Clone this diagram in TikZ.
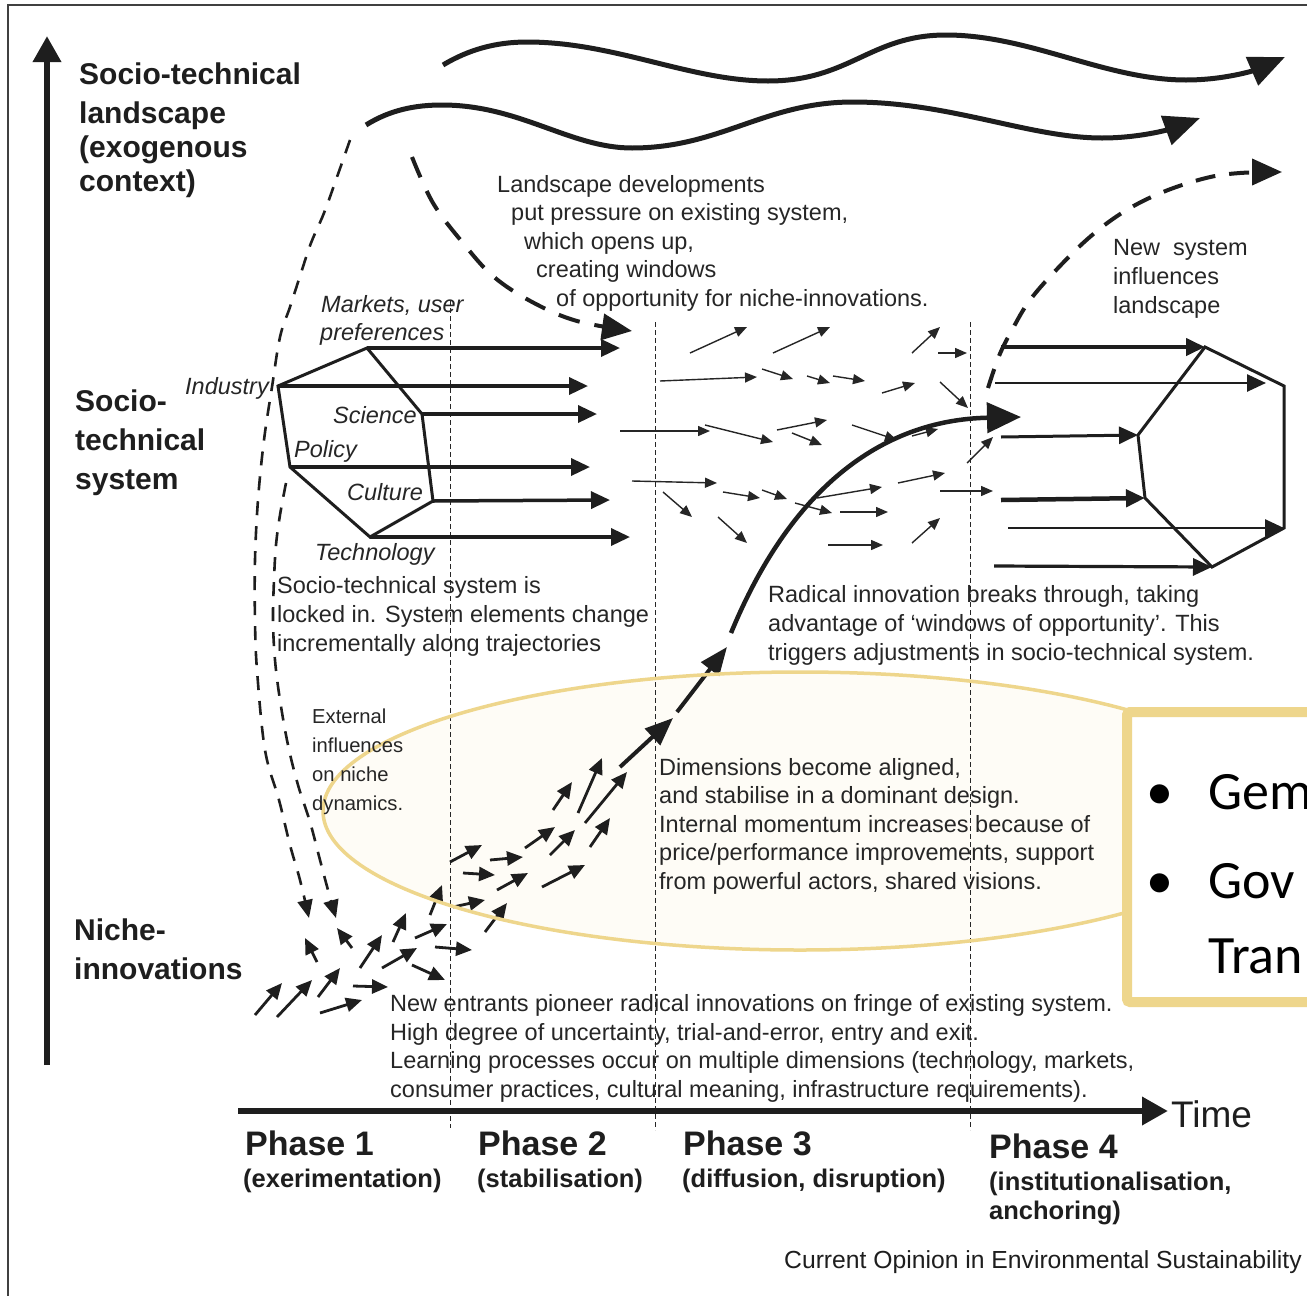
\documentclass[tikz,border=0pt]{standalone}
\usepackage{fontspec}
\setmainfont{Liberation Sans}
\newfontfamily\carl{Carlito}
\usetikzlibrary{arrows.meta}
\definecolor{ink}{RGB}{30,30,30}
\definecolor{txt}{RGB}{38,38,38}
\definecolor{gold}{RGB}{238,214,140}
\definecolor{cream}{RGB}{254,252,246}
\tikzset{
  lbl/.style={anchor=base west, inner sep=0pt, text=txt, font=\fontsize{23.5}{28}\selectfont},
  itl/.style={lbl, font=\fontsize{23.5}{28}\selectfont\itshape},
  sml/.style={lbl, font=\fontsize{20.2}{24}\selectfont},
  hdr/.style={anchor=base west, inner sep=0pt, text=ink, font=\fontsize{30}{35}\selectfont\bfseries},
  phs/.style={anchor=base west, inner sep=0pt, text=ink, font=\fontsize{34}{38}\selectfont\bfseries},
  phsub/.style={anchor=base west, inner sep=0pt, text=ink, font=\fontsize{25.5}{30}\selectfont\bfseries},
  boxtxt/.style={anchor=base west, inner sep=0pt, text=black, font=\carl\fontsize{54}{60}\selectfont},
  axis/.style={draw=ink, line width=6.5pt, -{Triangle[length=26pt,width=27pt]}},
  wave/.style={draw=ink, line width=5pt, -{Triangle[length=36pt,width=30pt]}},
  sysarr/.style={draw=ink, line width=3.5pt, -{Triangle[length=19pt,width=17pt]}},
  hexline/.style={draw=ink, line width=3pt, line join=miter},
  thinarr/.style={draw=txt, line width=1.4pt, -{Triangle[length=12pt,width=10pt]}},
  nicharr/.style={draw=ink, line width=2.8pt, -{Triangle[length=16pt,width=14pt]}},
  phaseline/.style={draw=txt, line width=1pt, dash pattern=on 5pt off 3pt},
  lddash/.style={draw=ink, line width=2.6pt, dash pattern=on 14pt off 11pt, -{Triangle[length=18pt,width=15pt]}},
  bigdash/.style={draw=ink, line width=4pt, dash pattern=on 22pt off 15pt, -{Triangle[length=30pt,width=26pt]}},
  chain/.style={draw=ink, line width=4pt, -{Triangle[length=28pt,width=22pt]}},
}
\begin{document}
\begin{tikzpicture}[x=1pt,y=-1pt]
\useasboundingbox (0,0) rectangle (1307,1296);
\clip (0,0) rectangle (1307,1296);
\fill[white] (0,0) rectangle (1307,1296);
% frame
\draw[black!75, line width=1.5pt] (1307,5) -- (8,5) -- (8,1296);

% ellipse fill (behind)
\fill[cream] (800,811) ellipse [x radius=477, y radius=139];

% phase separators
\draw[phaseline] (450,300) -- (450,1128);
\draw[phaseline] (655,322) -- (655,1130);
\draw[phaseline] (970,322) -- (970,1130);

% axes
\coordinate (vaS) at (47,1065); \coordinate (vaE) at (47,36);
\draw[axis] (vaS) -- (vaE);
\coordinate (taS) at (238,1111); \coordinate (taE) at (1168,1111);
\draw[axis] (taS) -- (taE);

% landscape waves
\draw[wave] (443,65) .. controls (468,50) and (495,42) .. (527,42)
  .. controls (615,42) and (690,81) .. (768,81)
  .. controls (850,81) and (870,35) .. (946,35)
  .. controls (1030,35) and (1105,80) .. (1186,80)
  .. controls (1225,80) and (1255,70) .. (1285,57);
\draw[wave] (366,125) .. controls (390,110) and (415,105) .. (442,105)
  .. controls (520,105) and (570,148) .. (632,148)
  .. controls (720,148) and (765,102) .. (853,102)
  .. controls (950,102) and (1030,138) .. (1102,138)
  .. controls (1140,138) and (1170,129) .. (1200,118);

% dashed influences (left)
\draw[lddash] plot[smooth, tension=0.6] coordinates {(350,140) (337,177) (324,213) (311,243) (301,273) (290,307) (280,337) (272,387) (264,440) (258,500) (255,560) (255,620) (257,670) (265,750) (279,800) (290,845) (300,880) (309,918)};
\draw[lddash] plot[smooth, tension=0.6] coordinates {(286,483) (280,515) (276,545) (274,580) (273,620) (275,660) (280,700) (288,745) (298,785) (310,822) (320,860) (328,890) (336,918)};

% landscape pressure dashed
\draw[bigdash] plot[smooth, tension=0.6] coordinates {(412,157) (433,203) (463,243) (494,277) (534,303) (577,321) (632,331)};
% new system influences landscape
\draw[bigdash, dash pattern=on 20pt off 14pt] plot[smooth, tension=0.6] coordinates {(988,388) (999,356) (1012,330) (1030,300) (1059,267) (1091,236) (1125,211) (1163,192) (1206,178) (1240,173) (1282,172)};

% left socio-technical system hexagon
\coordinate (hT) at (367,348);
\coordinate (hI) at (278,386);
\coordinate (hS) at (422,414);
\coordinate (hP) at (290,467);
\coordinate (hC) at (433,501);
\coordinate (hG) at (370,537);
\draw[hexline] (hT) -- (hS) -- (hC) -- (hG) -- (hP) -- (hI) -- cycle;
\coordinate (eT) at (620,348);
\coordinate (eI) at (588,386);
\coordinate (eS) at (597,414);
\coordinate (eP) at (590,467);
\coordinate (eC) at (610,500);
\coordinate (eG) at (630,537);
\draw[sysarr] (hT) -- (eT);
\draw[sysarr] (hI) -- (eI);
\draw[sysarr] (hS) -- (eS);
\draw[sysarr] (hP) -- (eP);
\draw[sysarr] (hC) -- (eC);
\draw[sysarr] (hG) -- (eG);

% right new system hexagon
\coordinate (rT) at (1205,347);
\coordinate (rRU) at (1284,386);
\coordinate (rRL) at (1284,528);
\coordinate (rB) at (1212,567);
\coordinate (rLL) at (1145,498);
\coordinate (rLU) at (1138,435);
\draw[hexline] (rT) -- (rRU) -- (rRL) -- (rB) -- (rLL) -- (rLU) -- cycle;
\coordinate (s1) at (1001,347);
\coordinate (s2) at (995,383);
\coordinate (s3) at (1001,437);
\coordinate (s4) at (1001,500);
\coordinate (s5) at (1008,528);
\coordinate (s6) at (994,566);
\coordinate (t2) at (1266,383);
\draw[sysarr, line width=4pt] (s1) -- (rT);
\draw[sysarr, line width=2.6pt] (s2) -- (t2);
\draw[sysarr, line width=3pt] (s3) -- (rLU);
\draw[sysarr, line width=4.5pt] (s4) -- (rLL);
\draw[sysarr, line width=2.6pt] (s5) -- (rRL);
\draw[sysarr, line width=3.2pt] (s6) -- (rB);

% small arrows in phases 2-3
\foreach \a/\b/\c/\d in {690/353/747/327, 773/353/830/327, 912/353/940/327, 938/353/967/353,
  660/381/757/377, 762/369/793/379, 807/376/830/383, 833/376/865/381, 882/393/915/383, 940/382/968/408,
  620/431/710/431, 705/425/773/442, 777/430/827/420, 792/433/822/445, 852/425/897/440, 912/436/938/429,
  967/463/993/437, 632/481/717/483, 663/492/692/517, 723/492/760/498, 762/490/787/499, 817/498/882/487,
  795/503/832/513, 898/483/945/473, 940/491/993/491, 840/512/888/512, 718/517/747/543, 828/545/883/545,
  912/543/940/518}
  \draw[thinarr] (\a,\b) -- (\c,\d);

% niche arrows
\foreach \a/\b/\c/\d in {255/1015/282/983, 277/1017/312/980, 318/997/340/968, 320/1013/362/1000,
  353/986/388/987, 360/968/382/935, 382/968/417/948, 412/965/445/980, 393/942/406/913,
  415/938/447/924, 430/915/442/885, 435/947/472/950, 453/907/485/900, 485/932/507/903,
  497/890/528/873, 463/873/495/875, 450/862/482/845, 490/860/523/857, 525/848/555/827,
  550/855/575/830, 542/887/585/865, 590/847/610/818, 585/823/627/772, 578/813/602/758,
  553/810/572/782, 317/962/305/938, 352/948/337/928}
  \draw[nicharr] (\a,\b) -- (\c,\d);

% main breakthrough chain
\coordinate (c1) at (620,767); \coordinate (c2) at (673,718);
\coordinate (c3) at (677,712); \coordinate (c4) at (727,647);
\coordinate (c5) at (731,633); \coordinate (c6) at (1021,417);
\draw[chain] (c1) -- (c2);
\draw[chain] (c3) -- (c4);
\draw[draw=ink, line width=4.5pt, -{Triangle[length=34pt,width=30pt]}] (c5) .. controls (790,490) and (880,420) .. (c6);

% ellipse outline
\draw[gold, line width=3.5pt] (800,811) ellipse [x radius=477, y radius=139];

% headers
\node[hdr] (h1) at (79,84) {Socio-technical};
\node[hdr] (h2) at (79,123) {landscape};
\node[hdr] (h3) at (79,157) {(exogenous};
\node[hdr] (h4) at (79,191) {context)};
\node[hdr] (h5) at (75,411) {Socio-};
\node[hdr] (h6) at (75,450) {technical};
\node[hdr] (h7) at (75,489) {system};
\node[hdr] (h8) at (74,940) {Niche-};
\node[hdr] (h9) at (74,979) {innovations};

% landscape text
\node[lbl] (l1) at (497,192) {Landscape developments};
\node[lbl] (l2) at (511,220.5) {put pressure on existing system,};
\node[lbl] (l3) at (524,249) {which opens up,};
\node[lbl] (l4) at (536,277.5) {creating windows};
\node[lbl] (l5) at (556,306) {of opportunity for niche-innovations.};

\node[lbl] (n1) at (1113,255) {New\hspace{6.5pt} system};
\node[lbl] (n2) at (1113,284) {influences};
\node[lbl] (n3) at (1113,313) {landscape};

% italic dimension labels
\node[itl] (i1) at (321,312) {Markets, user};
\node[itl] (i2) at (320,340) {preferences};
\node[itl] (i3) at (185,394) {Industry};
\node[itl] (i4) at (333,423) {Science};
\node[itl] (i5) at (294,457) {Policy};
\node[itl] (i6) at (347,500) {Culture};
\node[itl] (i7) at (315,560) {Technology};

\node[lbl] (k1) at (277,593) {Socio-technical system is};
\node[lbl] (k2) at (277,622) {locked in. System elements change};
\node[lbl] (k3) at (277,651) {incrementally along trajectories};

\node[lbl] (r1) at (768,602) {Radical innovation breaks through, taking};
\node[lbl] (r2) at (768,631) {advantage of ‘windows of opportunity’. This};
\node[lbl] (r3) at (768,660) {triggers adjustments in socio-technical system.};

\node[sml] (x1) at (312,723) {External};
\node[sml] (x2) at (312,752) {influences};
\node[sml] (x3) at (312,781) {on niche};
\node[sml] (x4) at (312,810) {dynamics.};

\node[lbl] (d1) at (659,775) {Dimensions become aligned,};
\node[lbl] (d2) at (659,803.5) {and stabilise in a dominant design.};
\node[lbl] (d3) at (659,832) {Internal momentum increases because of};
\node[lbl] (d4) at (659,860.5) {price/performance improvements, support};
\node[lbl] (d5) at (659,889) {from powerful actors, shared visions.};

\node[lbl] (e1) at (390,1011) {New entrants pioneer radical innovations on fringe of existing system.};
\node[lbl] (e2) at (390,1040) {High degree of uncertainty, trial-and-error, entry and exit.};
\node[lbl] (e3) at (390,1068.5) {Learning processes occur on multiple dimensions (technology, markets,};
\node[lbl] (e4) at (390,1097) {consumer practices, cultural meaning, infrastructure requirements).};

% time axis labels
\node[anchor=base west, inner sep=0pt, text=ink, font=\fontsize{37}{40}\selectfont] (tm) at (1171,1127) {Time};
\node[phs] (p1) at (245,1155) {Phase 1};
\node[phsub] (p1s) at (243,1187) {(exerimentation)};
\node[phs] (p2) at (478,1155) {Phase 2};
\node[phsub] (p2s) at (477,1187) {(stabilisation)};
\node[phs] (p3) at (683,1155) {Phase 3};
\node[phsub] (p3s) at (682,1187) {(diffusion, disruption)};
\node[phs] (p4) at (989,1158) {Phase 4};
\node[phsub] (p4s) at (989,1190) {(institutionalisation,};
\node[phsub] (p4t) at (989,1219) {anchoring)};

\node[anchor=base west, inner sep=0pt, text=ink, font=\fontsize{24.7}{28}\selectfont] (src) at (784,1268) {Current Opinion in Environmental Sustainability};

% overlay box
\draw[gold, line width=10pt, fill=white, rounded corners=3pt] (1127,712) rectangle (1330,1002);
\node[boxtxt] (b1) at (1146,809) {•};
\node[boxtxt] (g1) at (1208,809) {Gem};
\node[boxtxt] (b2) at (1146,898) {•};
\node[boxtxt] (g2) at (1208,898) {Gov};
\node[boxtxt] (g3) at (1208,973) {Tran};
\end{tikzpicture}
\end{document}
